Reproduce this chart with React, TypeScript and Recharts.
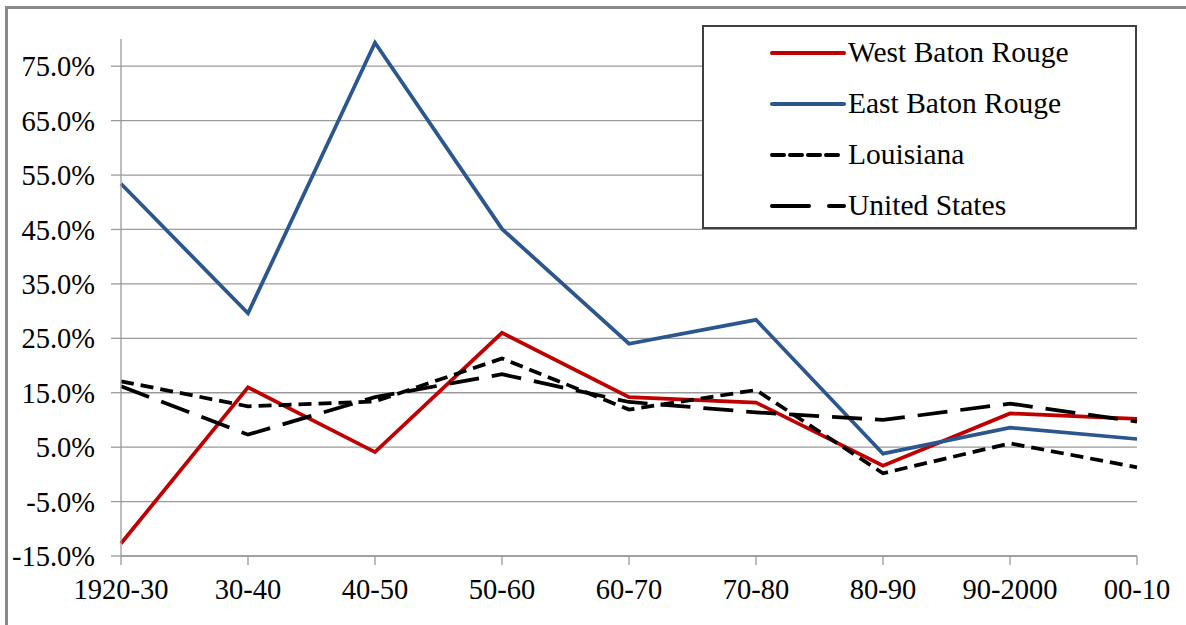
import React from 'react';
import { CartesianGrid, Line, LineChart, XAxis, YAxis } from 'recharts';

const decades = ['1920-30', '30-40', '40-50', '50-60', '60-70', '70-80', '80-90', '90-2000', '00-10'];
const westBatonRouge = [-12.7, 16.0, 4.1, 26.0, 14.2, 13.2, 1.6, 11.2, 10.2];
const eastBatonRouge = [53.4, 29.6, 79.3, 45.1, 24.0, 28.4, 3.8, 8.6, 6.5];
const louisiana = [17.1, 12.5, 13.4, 21.3, 11.9, 15.5, 0.2, 5.7, 1.3];
const unitedStates = [16.2, 7.3, 14.2, 18.4, 13.3, 11.4, 10.0, 13.0, 9.7];
const yTicks = [-15, -5, 5, 15, 25, 35, 45, 55, 65, 75];

const FONT = '"Liberation Serif", "Times New Roman", Times, serif';
const GRID = '#9a9a9a';

const series = [
  { key: 'west', name: 'West Baton Rouge', color: '#c00000', dash: undefined, legendDash: undefined },
  { key: 'east', name: 'East Baton Rouge', color: '#2b578e', dash: undefined, legendDash: undefined },
  { key: 'la', name: 'Louisiana', color: '#000000', dash: '13 7', legendDash: '12 6' },
  { key: 'us', name: 'United States', color: '#000000', dash: '30 13', legendDash: '37 20 15' },
];

const data = decades.map((d, i) => ({
  decade: d,
  west: westBatonRouge[i],
  east: eastBatonRouge[i],
  la: louisiana[i],
  us: unitedStates[i],
}));

// boxed legend in the upper right, laid over the gridlines
function LegendBox() {
  return (
    <div
      style={{
        position: 'absolute',
        left: 702,
        top: 25,
        width: 435,
        height: 204,
        boxSizing: 'border-box',
        border: '2px solid #404040',
        background: '#fff',
        fontFamily: FONT,
        fontSize: 29.5,
        color: '#000',
        paddingTop: 0,
      }}
    >
      {series.map((s) => (
        <div key={s.key} style={{ display: 'flex', alignItems: 'center', height: 51 }}>
          <svg width={76} height={10} style={{ marginLeft: 66, marginRight: 2 }}>
            <line
              x1={2}
              y1={5}
              x2={74}
              y2={5}
              stroke={s.color}
              strokeWidth={4}
              strokeLinecap="round"
              strokeDasharray={s.legendDash}
            />
          </svg>
          <span style={{ lineHeight: 1 }}>{s.name}</span>
        </div>
      ))}
    </div>
  );
}

export default function App() {
  return (
    <div
      style={{
        position: 'absolute',
        left: 0,
        top: 0,
        width: 1186,
        height: 625,
        background: '#fff',
        overflow: 'hidden',
        fontFamily: FONT,
      }}
    >
      <div
        style={{
          position: 'absolute',
          left: 5,
          top: 6,
          width: 1200,
          height: 640,
          borderTop: '3px solid #8a8a8a',
          borderLeft: '3px solid #8a8a8a',
        }}
      />
      <div style={{ position: 'absolute', left: 0, top: 0 }}>
        <LineChart width={1186} height={625} data={data} margin={{ top: 39, right: 49, bottom: 29, left: 21 }}>
          <CartesianGrid vertical={false} syncWithTicks stroke={GRID} strokeWidth={1.3} />
          <XAxis
            dataKey="decade"
            height={40}
            stroke={GRID}
            strokeWidth={1.3}
            tickSize={9}
            tickMargin={14}
            interval={0}
            tick={{ fill: '#000', fontFamily: FONT, fontSize: 28.5 }}
          />
          <YAxis
            width={100}
            domain={[-15, 80]}
            ticks={yTicks}
            interval={0}
            stroke={GRID}
            strokeWidth={1.3}
            tickSize={10}
            tickMargin={16}
            tickFormatter={(v: number) => `${v.toFixed(1)}%`}
            tick={{ fill: '#000', fontFamily: FONT, fontSize: 28.5 }}
          />
          {series.map((s) => (
            <Line
              key={s.key}
              dataKey={s.key}
              name={s.name}
              stroke={s.color}
              strokeWidth={3.75}
              strokeDasharray={s.dash}
              dot={false}
              activeDot={false}
              isAnimationActive={false}
            />
          ))}
        </LineChart>
      </div>
      <LegendBox />
    </div>
  );
}
